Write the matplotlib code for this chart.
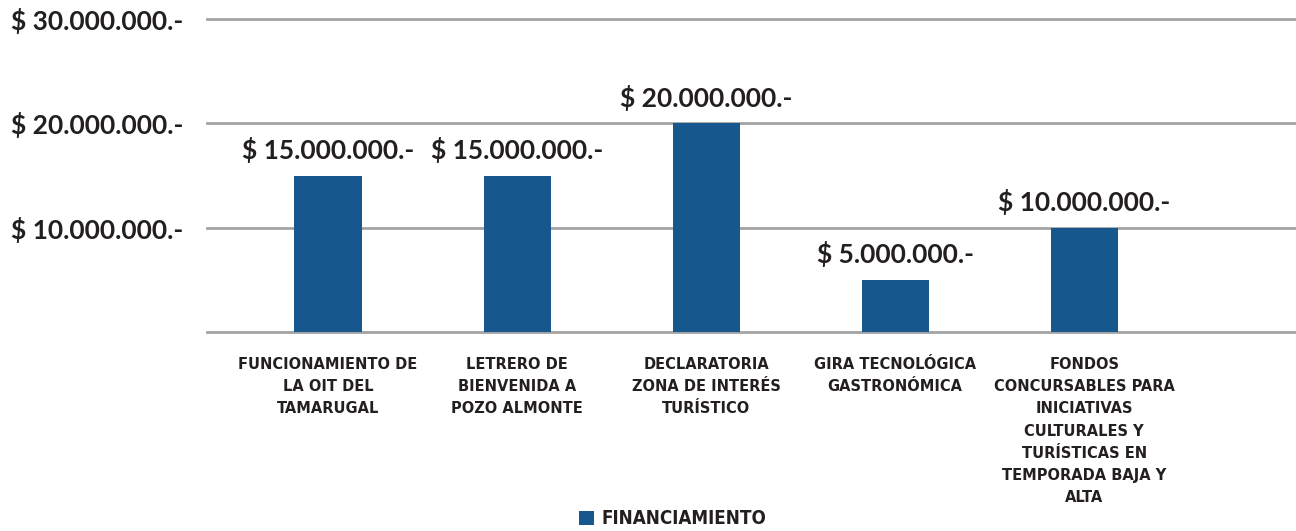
import matplotlib
matplotlib.use('Agg')
import matplotlib.pyplot as plt
from matplotlib.patches import Patch

categories = ['FUNCIONAMIENTO DE\nLA OIT DEL\nTAMARUGAL',
              'LETRERO DE\nBIENVENIDA A\nPOZO ALMONTE',
              'DECLARATORIA\nZONA DE INTERÉS\nTURÍSTICO',
              'GIRA TECNOLÓGICA\nGASTRONÓMICA',
              'FONDOS\nCONCURSABLES PARA\nINICIATIVAS\nCULTURALES Y\nTURÍSTICAS EN\nTEMPORADA BAJA Y\nALTA']
values = [15000000, 15000000, 20000000, 5000000, 10000000]
ytick_vals = [10000000, 20000000, 30000000]
series_name = 'FINANCIAMIENTO'

bar_color = '#16588e'
grid_color = '#a3a3a5'
text_color = '#231f20'

def money(v):
    return '$ ' + f'{v:,.0f}'.replace(',', '.') + '.-'

fig = plt.figure(figsize=(12.96, 5.31), dpi=100)
ax = fig.add_axes([207/1296, 199/531, 1089/1296, 313/531])

x = list(range(len(values)))
ax.bar(x, values, width=0.355, color=bar_color, zorder=3)

ax.set_xlim(-0.64, 5.12)
ax.set_ylim(0, 30000000)

for yv in [0] + ytick_vals:
    ax.axhline(yv, color=grid_color, lw=2, clip_on=False, zorder=1)

for s in ax.spines.values():
    s.set_visible(False)

ax.set_yticks(ytick_vals)
ax.set_yticklabels([money(v) for v in ytick_vals], family='Lato', fontweight='bold',
                   fontsize=19, color=text_color)
ax.tick_params(axis='y', length=0, pad=17)

ax.set_xticks(x)
ax.set_xticklabels(categories, family='DejaVu Sans', fontstretch='condensed',
                   fontweight='bold', fontsize=11.7, color=text_color,
                   linespacing=1.6, va='top', ha='center')
ax.tick_params(axis='x', length=0, pad=18)

for xi, v in zip(x, values):
    ax.annotate(money(v), (xi, v), xytext=(0, 9), textcoords='offset points',
                ha='center', va='bottom', family='Lato', fontweight='bold',
                fontsize=19, color=text_color)

handle = Patch(facecolor=bar_color, edgecolor='none')
leg = fig.legend([handle], [series_name], loc='center', bbox_to_anchor=(673/1296, 1 - 519/531),
                 frameon=False, handlelength=0.8, handleheight=0.8, handletextpad=0.4,
                 prop={'family': 'DejaVu Sans', 'stretch': 'condensed',
                       'weight': 'bold', 'size': 13.5})
for t in leg.get_texts():
    t.set_color(text_color)

fig.savefig('out.png', dpi=100)
